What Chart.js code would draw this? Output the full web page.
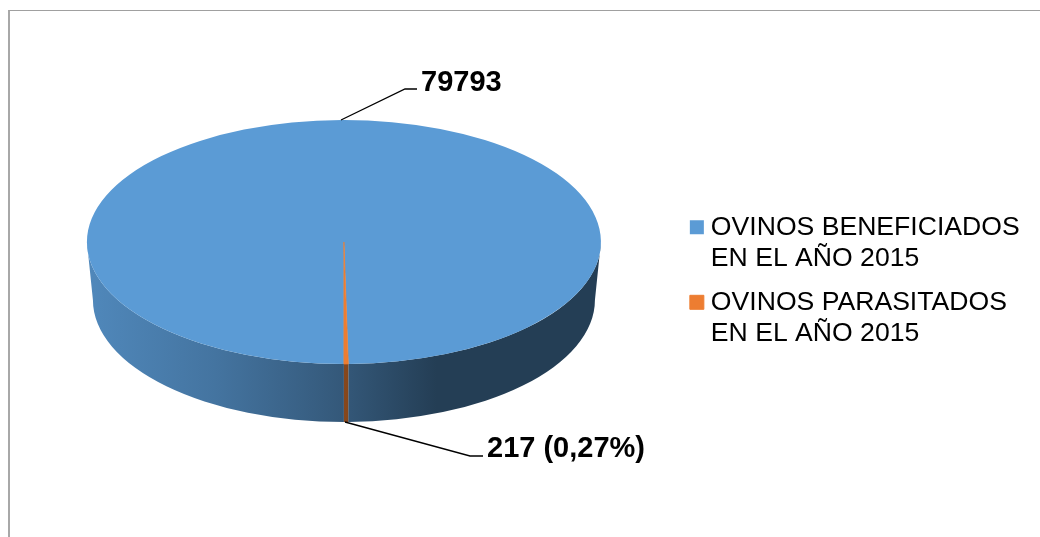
<!DOCTYPE html>
<html lang="es">
<head>
<meta charset="utf-8">
<title>Ovinos 2015</title>
<script src="https://cdn.jsdelivr.net/npm/chart.js@4/dist/chart.umd.min.js"></script>
<style>
  html, body { margin: 0; padding: 0; background: #fff; overflow: hidden; height: 537px; }
  #frame { position: absolute; left: 8px; top: 10px; width: 1040px; height: 540px;
           border-top: 1px solid #a0a0a0; border-left: 2px solid #a8a8a8; }
  #chart { position: absolute; left: 0; top: 0; }
</style>
</head>
<body>
<div id="frame"></div>
<canvas id="chart" width="1040" height="540"></canvas>
<script>
const categories = [
  ['OVINOS BENEFICIADOS', 'EN EL AÑO 2015'],
  ['OVINOS PARASITADOS', 'EN EL AÑO 2015'],
];
const values = [79793, 217];
const valueLabels = ['79793', '217 (0,27%)'];
const sliceColors = ['#5B9BD5', '#ED7D31'];

// Fake 3D: the library draws the round pie, we squash it and add a wall under it
const TOP_CY = 242;
const TOP_RY = 122;
const BOTTOM_CY = 300;
const BOTTOM_RY = 122;
const BOTTOM_INSET = 6;
// brightness of the wall from left to right
const wallShade = [[0, 0.88], [0.25, 0.75], [0.5, 0.57], [0.68, 0.4], [1, 0.4]];
// [anchor, elbow, end of leader, text position]
const callouts = [
  [[341, 120], [405, 89], [417, 89], [421, 83]],
  [[345, 422], [470, 456], [483, 456], [487, 449]],
];

function shade(hex, k) {
  const n = parseInt(hex.slice(1), 16);
  const c = [n >> 16, (n >> 8) & 255, n & 255].map(v => Math.round(v * k));
  return `rgb(${c[0]},${c[1]},${c[2]})`;
}

function drawWall(ctx, arc, color) {
  const rx = arc.outerRadius;
  const gradient = ctx.createLinearGradient(arc.x - rx, 0, arc.x + rx, 0);
  wallShade.forEach(([stop, k]) => gradient.addColorStop(stop, shade(color, k)));
  ctx.fillStyle = gradient;
  // only the front half (0..PI on the canvas) can be seen
  for (const turn of [0, -2 * Math.PI]) {
    const from = Math.max(arc.startAngle + turn, 0);
    const to = Math.min(arc.endAngle + turn, Math.PI);
    if (to <= from) continue;
    ctx.beginPath();
    ctx.ellipse(arc.x, TOP_CY, rx, TOP_RY, 0, from, to);
    ctx.ellipse(arc.x, BOTTOM_CY, rx - BOTTOM_INSET, BOTTOM_RY, 0, to, from, true);
    ctx.closePath();
    ctx.fill();
  }
}

const pie3d = {
  id: 'pie3d',
  beforeDatasetsDraw(chart) {
    const { ctx } = chart;
    const arcs = chart.getDatasetMeta(0).data;
    arcs.forEach((arc, i) => drawWall(ctx, arc, sliceColors[i]));
    const { x, y, outerRadius } = arcs[0];
    ctx.save();
    ctx.translate(x, TOP_CY);
    ctx.scale(1, TOP_RY / outerRadius);
    ctx.translate(-x, -y);
  },
  afterDatasetsDraw(chart) {
    const { ctx } = chart;
    ctx.restore();
    ctx.save();
    ctx.strokeStyle = '#000';
    ctx.lineWidth = 1.3;
    ctx.fillStyle = '#000';
    ctx.font = 'bold 29px "Liberation Sans", Arial, sans-serif';
    ctx.textBaseline = 'middle';
    callouts.forEach(([a, b, c, t], i) => {
      ctx.beginPath();
      ctx.moveTo(a[0], a[1]);
      ctx.lineTo(b[0], b[1]);
      ctx.lineTo(c[0], c[1]);
      ctx.stroke();
      ctx.fillText(valueLabels[i], t[0], t[1]);
    });
    ctx.restore();
  },
};

new Chart(document.getElementById('chart'), {
  type: 'pie',
  data: {
    labels: categories,
    datasets: [{
      data: values,
      backgroundColor: sliceColors,
      borderColor: sliceColors,
      borderWidth: [0, 1],
    }],
  },
  options: {
    responsive: false,
    animation: false,
    devicePixelRatio: 1,
    rotation: 180,
    layout: { padding: { left: 4.7, right: 10.3, top: 25, bottom: 0 } },
    plugins: {
      tooltip: { enabled: false },
      legend: {
        position: 'right',
        align: 'center',
        labels: {
          color: '#000',
          font: { family: '"Liberation Sans", Arial, sans-serif', size: 26.6, lineHeight: 1.165 },
          usePointStyle: true,
          pointStyle: 'rect',
          boxWidth: 1.4,
          boxHeight: 14,
          padding: 13,
        },
      },
    },
  },
  plugins: [pie3d],
});
</script>
</body>
</html>
